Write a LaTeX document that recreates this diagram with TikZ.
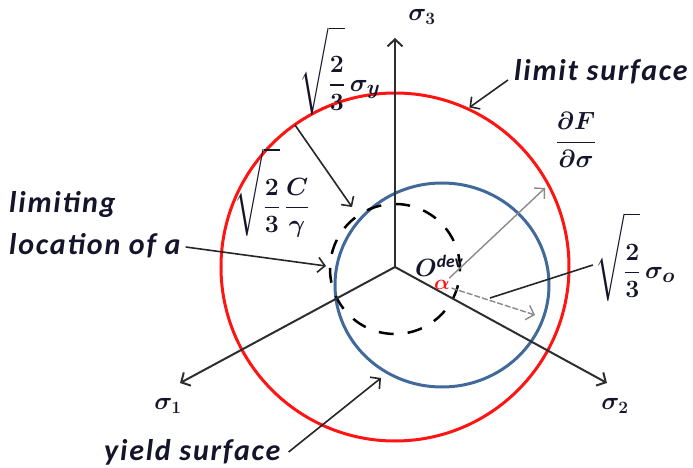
\documentclass[tikz,border=0pt]{standalone}
\usepackage{amsmath,amssymb}
\usepackage{fontspec}
\setmainfont{Carlito}
\usetikzlibrary{arrows.meta, positioning, calc}
\definecolor{limred}{HTML}{FF1414}
\definecolor{yldblue}{HTML}{41699A}
\definecolor{axgray}{HTML}{2E2E2E}
\definecolor{dkink}{HTML}{14142A}
\definecolor{gradgray}{HTML}{8A8A8A}

\begin{document}
\begin{tikzpicture}[x=1pt, y=1pt,
  >={Straight Barb[length=7pt, width=15pt]},
  axis/.style={->, line width=2pt, axgray},
  lead/.style={->, line width=1.6pt, black!85},
  lbl/.style={font=\fontsize{30}{42}\selectfont\bfseries\itshape\addfontfeature{LetterSpace=6},
    text=dkink, align=left, inner sep=0pt},
  mlbl/.style={font=\fontsize{29}{32}\selectfont\boldmath, text=dkink, inner sep=0pt},
  albl/.style={font=\fontsize{25}{30}\selectfont\boldmath, text=dkink, inner sep=0pt},
]

\useasboundingbox (-395,-201) rectangle (298,267);

% =============================================
% Origin and back stress
% =============================================
\coordinate (O) at (0,0);
\coordinate (alpha) at (47,-18);

% Surfaces
\draw[limred, line width=3pt] (O) circle (174);
\draw[yldblue, line width=3pt] (alpha) ellipse [x radius=107, y radius=102];
\draw[black, line width=2.5pt, dash pattern=on 15pt off 14pt] (0,-2) circle (65);

% =============================================
% Principal stress axes
% =============================================
\coordinate (s1tip) at (-215,-116);
\coordinate (s2tip) at (212,-116);
\coordinate (s3tip) at (0,229);

\draw[axis] (O) -- (s1tip);
\draw[axis] (O) -- (s2tip);
\draw[axis] (O) -- (s3tip);

\node[albl] (s1) at (-227,-139) {$\sigma_{1}$};
\node[albl] (s2) at (220,-139) {$\sigma_{2}$};
\node[albl] (s3) at (27,250) {$\sigma_{3}$};

% Origin label and alpha
\node[albl, anchor=south west] (odev) at (20,-10) {$O^{\mathit{dev}}$};
\node[font=\fontsize{20}{22}\selectfont\boldmath, text=limred] (al) at (alpha) {$\alpha$};

% =============================================
% Labels
% =============================================
\node[lbl, anchor=west] (limlbl) at (119,195) {limit surface};
\node[lbl, anchor=west] (loclbl) at (-386,42) {limiting\\location of a};
\node[lbl, anchor=west] (yldlbl) at (-291,-185) {yield surface};

\node[mlbl] (sylbl) at (-55,196)
  {$\sqrt{\dfrac{\rule{0pt}{37pt}2}{3}}\,\sigma_{y}$};
\node[mlbl] (cglbl) at (-123,74)
  {$\sqrt{\dfrac{\rule{0pt}{40pt}2}{3}}\,\dfrac{C}{\gamma}$};
\node[mlbl] (solbl) at (240,10)
  {$\sqrt{\dfrac{\rule{0pt}{40pt}2}{3}}\,\sigma_{o}$};
\node[mlbl] (dflbl) at (181,127)
  {$\dfrac{\partial F}{\partial \sigma}$};

% =============================================
% Arrows
% =============================================
\coordinate (limtip) at (65:176);
\coordinate (sytail) at (-100,142);
\coordinate (sytip) at (-43,60);
\coordinate (loctip) at (-69,1);
\coordinate (yldtip) at (-14,-111);
\coordinate (gradtip) at (150,79);
\coordinate (radtip) at (140,-48);
\coordinate (soend) at (95,-31);

\draw[lead] ([shift={(-6pt,-8pt)}]limlbl.west) -- (limtip);
\draw[lead] (sytail) -- (sytip);
\draw[lead] ([shift={(5pt,-22pt)}]loclbl.east) -- (loctip);
\draw[lead] ([xshift=8pt]yldlbl.east) -- (yldtip);

% gradient direction and yield radius
\draw[->, line width=1.4pt, gradgray, shorten <=10pt] (alpha) -- (gradtip);
\draw[->, line width=1.4pt, gradgray, dash pattern=on 6pt off 2pt, shorten <=10pt]
  (alpha) -- (radtip);
\draw[line width=1.6pt, black!85] ([shift={(-2pt,-8pt)}]solbl.west) -- (soend);

\end{tikzpicture}
\end{document}
